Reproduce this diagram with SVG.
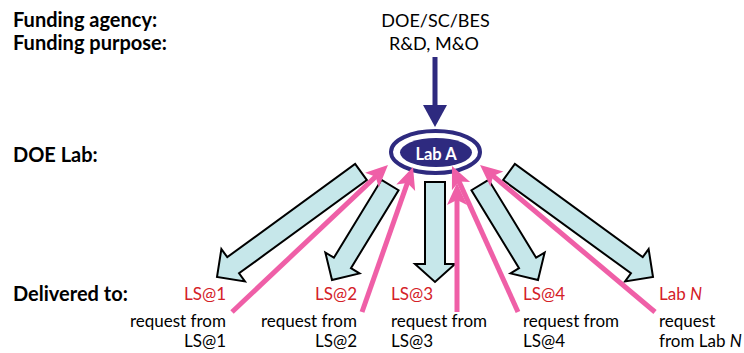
<svg xmlns="http://www.w3.org/2000/svg" width="744" height="353" viewBox="0 0 744 353">
<style>
text{font-family:Lato,"Open Sans","Liberation Sans",sans-serif;}
.lbl{font-size:20px;font-weight:bold;fill:#000;}
.top{font-size:18px;fill:#000;text-anchor:middle;}
.red{font-size:17px;fill:#d42027;}
.req{font-size:17px;fill:#000;}
.end{text-anchor:end;}
.blk{fill:#c6e7ea;stroke:#000;stroke-width:2;stroke-linejoin:miter;}
.pink{stroke:#ef5fa7;stroke-width:5;fill:none;marker-end:url(#ph);}
</style>
<defs>
<marker id="ph" markerUnits="userSpaceOnUse" viewBox="-14 -11 26 22" markerWidth="26" markerHeight="22" refX="0" refY="0" orient="auto">
<path d="M10,0 L-12,-10 L-7,0 L-12,10 Z" fill="#ef5fa7"/>
</marker>
</defs>
<rect width="744" height="353" fill="#fff"/>
<g id="labels">
<text class="lbl" x="13" y="27">Funding agency:</text>
<text class="lbl" x="13" y="50">Funding purpose:</text>
<text class="lbl" x="13" y="162">DOE Lab:</text>
<text class="lbl" x="13" y="301">Delivered to:</text>
</g>
<g id="funding">
<text class="top" x="435.5" y="27">DOE/SC/BES</text>
<text class="top" x="434" y="50">R&amp;D, M&amp;O</text>
</g>
<g id="connectors">
<g id="fund-arrow" fill="#2e2a7f">
<rect x="432.5" y="57" width="5" height="49"/>
<polygon points="423,105 447,105 435,127"/>
</g>
<g id="deliveries">
<polygon class="blk" points="355.11,163.92 366.89,180.08 239.05,273.30 244.94,281.38 217,277 221.38,249.06 227.27,257.14"/>
<polygon class="blk" points="381.47,179.79 398.54,190.21 350.96,268.14 359.49,273.35 332,280 325.35,252.51 333.89,257.72"/>
<polygon class="blk" points="425,182 445,182 445,264 455,264 435,282 415,264 425,264"/>
<polygon class="blk" points="488.53,179.79 471.46,190.21 519.04,268.14 510.51,273.35 538,280 544.65,252.51 536.11,257.72"/>
<polygon class="blk" points="514.89,163.92 503.11,180.08 630.95,273.30 625.06,281.38 653,277 648.62,249.06 642.73,257.14"/>
</g>
</g>
<g id="labA">
<ellipse cx="435.5" cy="152" rx="44.5" ry="21" fill="#fff" stroke="#2e2a7f" stroke-width="4"/>
<ellipse cx="436" cy="152.5" rx="36" ry="14.5" fill="#2e2a7f"/>
<text x="436" y="160" font-size="16.5" font-weight="bold" fill="#fff" text-anchor="middle">Lab A</text>
</g>
<g id="requests">
<line class="pink" x1="232" y1="312" x2="380.7" y2="171.9"/>
<line class="pink" x1="362" y1="312" x2="409.7" y2="176.4"/>
<line class="pink" x1="518" y1="312" x2="456.1" y2="175.1"/>
<line class="pink" x1="457" y1="312" x2="457" y2="193"/>
<line class="pink" x1="655" y1="312" x2="487.7" y2="171.4"/>
</g>
<g id="ls1">
<text class="red end" x="226" y="300">LS@1</text>
<text class="req end" x="226" y="327">request from</text>
<text class="req end" x="226" y="347">LS@1</text>
</g>
<g id="ls2">
<text class="red end" x="357" y="300">LS@2</text>
<text class="req end" x="357" y="327">request from</text>
<text class="req end" x="357" y="347">LS@2</text>
</g>
<g id="ls3">
<text class="red" x="391" y="300">LS@3</text>
<text class="req" x="391" y="327">request from</text>
<text class="req" x="391" y="347">LS@3</text>
</g>
<g id="ls4">
<text class="red" x="523" y="300">LS@4</text>
<text class="req" x="523" y="327">request from</text>
<text class="req" x="523" y="347">LS@4</text>
</g>
<g id="labN">
<text class="red" x="659" y="300">Lab <tspan font-style="italic">N</tspan></text>
<text class="req" x="659" y="327">request</text>
<text class="req" x="659" y="347">from Lab <tspan font-style="italic">N</tspan></text>
</g>
</svg>
